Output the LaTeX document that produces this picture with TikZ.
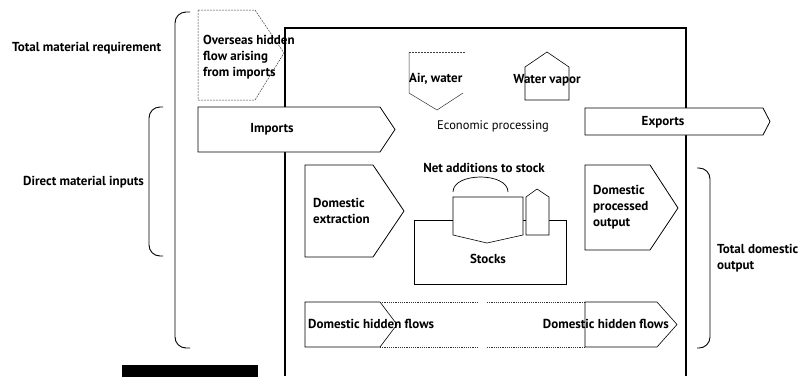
\documentclass[tikz,border=0pt]{standalone}
\usepackage{fontspec}
\setmainfont{PT Sans}
\begin{document}
\begin{tikzpicture}[x=1pt, y=-1pt, line join=miter,
  frame/.style={draw=black, line width=1.4pt},
  flowbox/.style={draw=black, line width=0.8pt, fill=white},
  thinbox/.style={draw=black, line width=0.6pt, fill=white},
  ghost/.style={draw=black!75, line width=0.5pt, dash pattern=on 2pt off 1pt},
  hidden/.style={draw=black!80, line width=0.6pt, dash pattern=on 1.2pt off 1pt},
  bracket/.style={draw=black, line width=0.9pt, rounded corners=11pt},
  lbl/.style={font=\fontsize{13}{16}\selectfont\bfseries, inner sep=0pt, align=left},
  plain/.style={font=\fontsize{12.5}{16}\selectfont, inner sep=0pt, align=left}
]
\useasboundingbox (0,0) rectangle (808,376);

% system boundary of the economy
\draw[frame] (285,376) -- (285,28) -- (686,28) -- (686,376);

% overseas hidden flow (outside the boundary)
\draw[ghost] (198,10) -- (255,10) -- (284,53) -- (255,100) -- (198,100) -- cycle;
\node[lbl, anchor=west] (overseas) at (203,57) {Overseas hidden\\flow arising\\from imports};

% brackets on the left
\draw[bracket] (190,12) -- (175,12) -- (175,348) -- (190,348);
\node[lbl, anchor=west] (tmr) at (12,48) {Total material requirement};
\draw[bracket] (163,107) -- (149,107) -- (149,256) -- (163,256);
\node[lbl, anchor=east] (dmi) at (144,182) {Direct material inputs};

% imports and exports crossing the boundary
\draw[flowbox] (198,107) -- (380,107) -- (395,129.5) -- (380,152) -- (198,152) -- cycle;
\node[lbl] (imports) at (272,129) {Imports};
\draw[flowbox] (585,108) -- (763,108) -- (770,121.5) -- (763,135) -- (585,135) -- cycle;
\node[lbl] (exports) at (663,122) {Exports};

% air/water in (open on the right), water vapour out
\draw[draw=black!80, line width=0.5pt] (463,93) -- (437,110) -- (409,93) -- (409,52);
\draw[ghost] (409,52) -- (465,52);
\node[lbl, anchor=west] (air) at (409,79) {Air, water};
\draw[draw=black, line width=0.6pt] (525,100) -- (525,67) -- (547,52) -- (569,67) -- (569,100) -- cycle;
\node[lbl] (vapor) at (547,80) {Water vapor};

\node[plain] (econ) at (493,126) {Economic processing};

% domestic extraction
\draw[flowbox] (305,165) -- (373,165) -- (404,211) -- (373,257) -- (305,257) -- cycle;
\node[lbl, anchor=west] (extraction) at (313,211) {Domestic\\extraction};

% stocks with net additions
\draw[thinbox] (414,220) rectangle (566,284);
\node[lbl] (stocks) at (488,259) {Stocks};
\draw[thinbox] (453,197) -- (523,197) -- (523,235) -- (487,243) -- (453,235) -- cycle;
\draw[thinbox] (526,235) -- (526,197) -- (537,189) -- (549,197) -- (549,235) -- cycle;
\draw[draw=black, line width=0.7pt] (453,192) .. controls (453,172) and (508,172) .. (508,192);
\node[lbl] (nas) at (484,168) {Net additions to stock};

% domestic processed output
\draw[flowbox] (585,165) -- (650,165) -- (678,208) -- (650,250) -- (585,250) -- cycle;
\node[lbl, anchor=west] (dpo) at (593,207) {Domestic\\processed\\output};

% bracket on the right
\draw[bracket] (697,168) -- (710,168) -- (710,348) -- (697,348);
\node[lbl, anchor=west] (tdo) at (717,258) {Total domestic\\output};

% domestic hidden flows
\draw[hidden] (380,302) -- (477,302) (487,302) -- (585,302);
\draw[hidden] (380,347) -- (477,347) (487,347) -- (585,347);
\draw[thinbox] (305,302) -- (380,302) -- (397,324.5) -- (380,347) -- (305,347) -- cycle;
\draw[thinbox] (585,302) -- (657,302) -- (677,324.5) -- (657,347) -- (585,347) -- cycle;
\node[lbl, anchor=west] (dhf1) at (308,324) {Domestic hidden flows};
\node[lbl, anchor=east] (dhf2) at (669,324) {Domestic hidden flows};

% caption bar
\fill[black] (122,365) rectangle (258,377);
\end{tikzpicture}
\end{document}
